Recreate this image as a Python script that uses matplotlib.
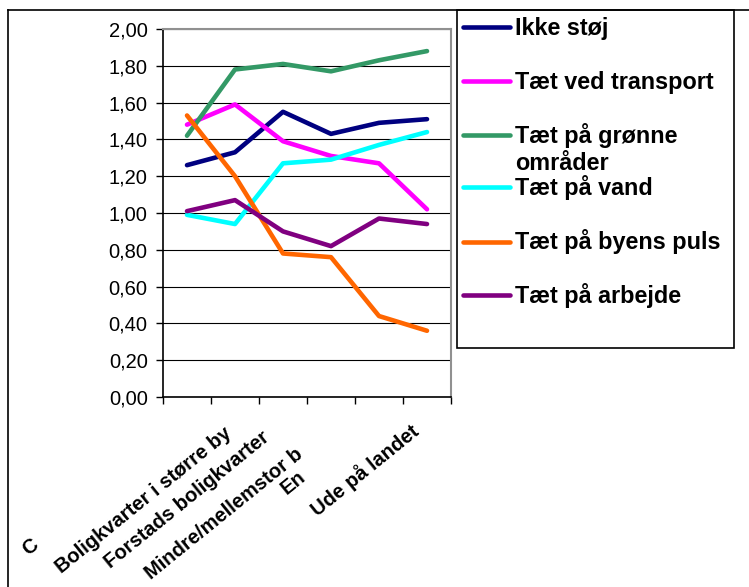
import matplotlib
matplotlib.use("Agg")
import matplotlib.pyplot as plt
import numpy as np
from matplotlib.lines import Line2D

plt.rcParams['font.family'] = ['Liberation Sans', 'DejaVu Sans']

# data
categories = ["C", "Boligkvarter i større by", "Forstads boligkvarter",
              "Mindre/mellemstor b", "En", "Ude på landet"]
series_names = ["Ikke støj", "Tæt ved transport", "Tæt på grønne\nområder",
                "Tæt på vand", "Tæt på byens puls", "Tæt på arbejde"]
ikke_stoej = [1.26, 1.33, 1.55, 1.43, 1.49, 1.51]
transport = [1.48, 1.59, 1.39, 1.31, 1.27, 1.02]
groenne = [1.42, 1.78, 1.81, 1.77, 1.83, 1.88]
vand = [0.99, 0.94, 1.27, 1.29, 1.37, 1.44]
byens_puls = [1.53, 1.20, 0.78, 0.76, 0.44, 0.36]
arbejde = [1.01, 1.07, 0.90, 0.82, 0.97, 0.94]
yticks = [0.0, 0.2, 0.4, 0.6, 0.8, 1.0, 1.2, 1.4, 1.6, 1.8, 2.0]
ytick_labels = ["0,00", "0,20", "0,40", "0,60", "0,80", "1,00",
                "1,20", "1,40", "1,60", "1,80", "2,00"]

colors = ["#000080", "#FF00FF", "#339966", "#00FFFF", "#FF6600", "#800080"]
series = [ikke_stoej, transport, groenne, vand, byens_puls, arbejde]

W, H = 749, 587
fig = plt.figure(figsize=(W / 100, H / 100), dpi=100)

# outer chart border (top and left only, rest is cropped)
fig.add_artist(Line2D([8 / W, 1.0], [1 - 10 / H, 1 - 10 / H], color="black", lw=1.2))
fig.add_artist(Line2D([8 / W, 8 / W], [0, 1 - 10 / H], color="black", lw=1.2))

ax = fig.add_axes([163 / W, 1 - 397 / H, (451 - 163) / W, (397 - 29) / H])
x = np.arange(len(categories))
for vals, c in zip(series, colors):
    ax.plot(x, vals, color=c, lw=3.3, solid_capstyle="round", solid_joinstyle="round", zorder=3)

ax.set_xlim(-0.5, len(categories) - 0.5)
ax.set_ylim(0, 2)
ax.set_yticks(yticks)
ax.set_yticklabels(ytick_labels)
ax.set_xticks(np.arange(len(categories) + 1) - 0.5)
ax.set_xticklabels([])
ax.tick_params(axis="y", direction="out", length=5, width=1, pad=6, labelsize=14.5)
ax.tick_params(axis="x", direction="out", length=5, width=1)
ax.yaxis.grid(True, color="black", lw=0.8)
ax.set_axisbelow(True)
for s in ["top", "right"]:
    ax.spines[s].set_color("#909090")
    ax.spines[s].set_linewidth(1.5)
for s in ["left", "bottom"]:
    ax.spines[s].set_linewidth(1.2)

# rotated category labels (partly hidden in the original)
label_offsets = [(-157, -138), (-12, -27), (-22, -31), (-37, -48), (-82, -70), (-17, -23)]
for i, (lab, off) in enumerate(zip(categories, label_offsets)):
    ax.annotate(lab, xy=(i, 0), xycoords="data", xytext=off, textcoords="offset pixels",
                rotation=39, rotation_mode="anchor", ha="right", va="top",
                fontsize=14.5, fontweight="bold", annotation_clip=False)

# legend box drawn by hand to match layout
lx0, lx1, ly0, ly1 = 457, 734, 10, 348
fig.add_artist(plt.Rectangle((lx0 / W, 1 - ly1 / H), (lx1 - lx0) / W, (ly1 - ly0) / H,
                             fill=False, ec="black", lw=1.2, transform=fig.transFigure))
entry_y = [27, 81, 135, 187, 242, 295]
for name, c, yy in zip(series_names, colors, entry_y):
    fig.add_artist(Line2D([463 / W, 510 / W], [1 - yy / H, 1 - yy / H], color=c, lw=3.3,
                          solid_capstyle="round"))
    for k, line in enumerate(name.split("\n")):
        fig.text(515 / W, 1 - (yy + 7.5 + 28 * k) / H, line, fontsize=16.8,
                 fontweight="bold", ha="left", va="baseline")

fig.savefig("out.png", dpi=100)
